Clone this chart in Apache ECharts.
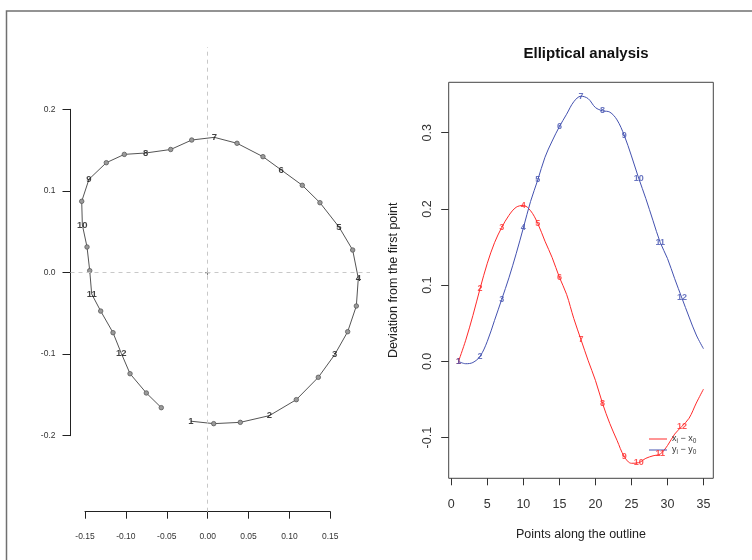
<!DOCTYPE html>
<html>
<head>
<meta charset="utf-8">
<script src="https://cdn.jsdelivr.net/npm/echarts@6/dist/echarts.min.js"></script>
<style>
  html, body { margin: 0; padding: 0; background: #fff; }
  #chart { width: 752px; height: 560px; }
</style>
</head>
<body>
<div id="chart"></div>
<script>
// Outline coordinates (35 points, centred on the centroid)
const outlineX = [-0.0202, 0.0076, 0.0401, 0.0756, 0.1086, 0.1355, 0.1555, 0.1714, 0.1820, 0.1844,
                  0.1775, 0.1608, 0.1375, 0.1159, 0.0902, 0.0678, 0.0361, 0.0083, -0.0193, -0.0450,
                  -0.0756, -0.1017, -0.1237, -0.1449, -0.1538, -0.1530, -0.1473, -0.1440, -0.1416, -0.1306,
                  -0.1155, -0.1054, -0.0947, -0.0748, -0.0565];
const outlineY = [-0.1820, -0.1850, -0.1834, -0.1752, -0.1556, -0.1282, -0.1005, -0.0723, -0.0408, -0.0069,
                  0.0278, 0.0560, 0.0858, 0.1071, 0.1259, 0.1422, 0.1586, 0.1659, 0.1626, 0.1510,
                  0.1467, 0.1450, 0.1348, 0.1145, 0.0875, 0.0585, 0.0315, 0.0025, -0.0261, -0.0470,
                  -0.0735, -0.0988, -0.1238, -0.1474, -0.1654];
// Point numbers (1-based) that carry a landmark label, and those labels
const landmarkPoints = [1, 4, 7, 10, 12, 15, 18, 21, 24, 26, 29, 32];
const landmarkLabels = ['1', '2', '3', '4', '5', '6', '7', '8', '9', '10', '11', '12'];
// Axis ticks
const pointTicks = [0, 5, 10, 15, 20, 25, 30, 35];
const devTicks = [-0.1, 0.0, 0.1, 0.2, 0.3];
// Data extent of the outline panel's plotting region
const outlineXRange = [-0.1675, 0.1987];
const outlineYRange = [-0.2929, 0.2766];

const RED = '#ff2a2a';
const BLUE = '#4452b0';
const FONT = '"Liberation Sans", Arial, sans-serif';

const pointIndex = outlineX.map((_, i) => i + 1);
const devX = outlineX.map(v => v - outlineX[0]);
const devY = outlineY.map(v => v - outlineY[0]);
const isLandmark = i => landmarkPoints.indexOf(i + 1) >= 0;

const outlineData = outlineX.map((x, i) => ({
  value: [x, outlineY[i]],
  symbol: isLandmark(i) ? 'none' : 'circle'
}));
const outlineLabelData = landmarkPoints.map((p, k) => ({
  value: [outlineX[p - 1], outlineY[p - 1]], name: landmarkLabels[k]
}));
const devXData = pointIndex.map((p, i) => [p, devX[i]]);
const devYData = pointIndex.map((p, i) => [p, devY[i]]);
const devXLabels = landmarkPoints.map((p, k) => ({ value: [p, devX[p - 1]], name: landmarkLabels[k] }));
const devYLabels = landmarkPoints.map((p, k) => ({ value: [p, devY[p - 1]], name: landmarkLabels[k] }));

function labelSeries(data, color, xi, yi, size) {
  return {
    type: 'scatter', xAxisIndex: xi, yAxisIndex: yi, data: data,
    symbol: 'circle', symbolSize: 1, silent: true, z: 5,
    itemStyle: { color: 'transparent' },
    label: {
      show: true, position: 'inside', formatter: p => p.name,
      color: color, fontSize: size, fontWeight: 'bold', fontFamily: FONT
    }
  };
}

const hiddenAxis = (grid, min, max) => ({
  gridIndex: grid, type: 'value', min: min, max: max, show: false,
  axisLine: { show: false }, axisTick: { show: false }, axisLabel: { show: false }, splitLine: { show: false }
});

const chart = echarts.init(document.getElementById('chart'), null, { renderer: 'canvas' });
chart.setOption({
  animation: false,
  backgroundColor: '#fff',
  textStyle: { fontFamily: FONT },
  title: {
    text: 'Elliptical analysis', left: 581, top: 41, textAlign: 'center',
    textStyle: { fontSize: 15, fontWeight: 'bold', color: '#111', fontFamily: FONT }
  },
  graphic: [{
    type: 'polyline', silent: true,
    shape: { points: [[6.5, 560], [6.5, 11], [752, 11]] },
    style: { stroke: '#707070', lineWidth: 1.5, fill: null }
  }],
  legend: {
    left: 644, top: 428.5, orient: 'vertical', itemGap: 0,
    itemWidth: 18, itemHeight: 1, icon: 'rect',
    data: ['xdev', 'ydev'],
    formatter: n => n === 'xdev' ? '{a|x}{s|i}{a| \u2212 x}{s|0}' : '{a|y}{s|i}{a| \u2212 y}{s|0}',
    textStyle: {
      color: '#333',
      rich: {
        a: { fontSize: 9, color: '#333', fontFamily: FONT, lineHeight: 10 },
        s: { fontSize: 6.5, color: '#333', fontFamily: FONT, lineHeight: 10, padding: [4, 0, 0, 0] }
      }
    }
  },
  grid: [
    // outline plotting region
    { left: 70.5, right: 752 - 370, top: 47, bottom: 560 - 511.7 },
    // deviation panel
    { left: 448.7, right: 752 - 713.3, top: 82.3, bottom: 560 - 478.3, show: true,
      borderColor: '#444', borderWidth: 1, backgroundColor: 'transparent' },
    // outline x axis, spanning its tick range
    { left: 85, right: 752 - 330.3, top: 510.7, height: 1 },
    // outline y axis, spanning its tick range
    { left: 70.5, width: 1, top: 109.3, bottom: 560 - 435.7 }
  ],
  xAxis: [
    hiddenAxis(0, outlineXRange[0], outlineXRange[1]),
    {
      gridIndex: 1, type: 'value', min: -0.36, max: 36.36, position: 'bottom',
      axisLine: { show: false, onZero: false },
      axisTick: { show: true, length: 7, customValues: pointTicks, lineStyle: { color: '#333' } },
      axisLabel: { customValues: pointTicks, fontSize: 12.5, color: '#333', margin: 20, fontFamily: FONT },
      splitLine: { show: false },
      name: 'Points along the outline', nameLocation: 'middle', nameGap: 50,
      nameTextStyle: { fontSize: 12.5, color: '#222', fontFamily: FONT }
    },
    {
      gridIndex: 2, type: 'value', min: -0.15, max: 0.15, interval: 0.05, position: 'bottom',
      axisLine: { show: true, onZero: false, lineStyle: { color: '#222', width: 1 } },
      axisTick: { show: true, length: 7, lineStyle: { color: '#222' } },
      axisLabel: { formatter: v => v.toFixed(2), fontSize: 8.5, color: '#333', margin: 20, fontFamily: FONT,
                   showMinLabel: true, showMaxLabel: true },
      splitLine: { show: false }
    },
    hiddenAxis(3, 0, 1)
  ],
  yAxis: [
    hiddenAxis(0, outlineYRange[0], outlineYRange[1]),
    {
      gridIndex: 1, type: 'value', min: -0.1533, max: 0.3661, position: 'left',
      axisLine: { show: false, onZero: false },
      axisTick: { show: true, length: 7.5, customValues: devTicks, lineStyle: { color: '#333' } },
      axisLabel: { customValues: devTicks, formatter: v => v.toFixed(1), rotate: 90, fontSize: 12.5,
                   color: '#333', margin: 15, fontFamily: FONT },
      splitLine: { show: false },
      name: 'Deviation from the first point', nameLocation: 'middle', nameGap: 49,
      nameTextStyle: { fontSize: 12.5, color: '#222', fontFamily: FONT }
    },
    hiddenAxis(2, 0, 1),
    {
      gridIndex: 3, type: 'value', min: -0.2, max: 0.2, interval: 0.1, position: 'left',
      axisLine: { show: true, onZero: false, lineStyle: { color: '#222', width: 1 } },
      axisTick: { show: true, length: 8, lineStyle: { color: '#222' } },
      axisLabel: { formatter: v => v.toFixed(1), fontSize: 8.5, color: '#333', margin: 15, fontFamily: FONT },
      splitLine: { show: false }
    }
  ],
  series: [
    {
      name: 'outline', type: 'line', xAxisIndex: 0, yAxisIndex: 0, data: outlineData,
      showSymbol: true, symbolSize: 4.5, z: 3,
      lineStyle: { color: '#555', width: 1 },
      itemStyle: { color: '#9a9a9a', borderColor: '#5a5a5a', borderWidth: 0.8 },
      markLine: {
        silent: true, symbol: 'none', label: { show: false },
        lineStyle: { color: '#c8c8c8', type: [4, 4], width: 1 },
        data: [{ yAxis: 0 }, { xAxis: 0 }]
      }
    },
    {
      type: 'scatter', xAxisIndex: 0, yAxisIndex: 0, data: [[0, 0]], silent: true, z: 4,
      symbol: 'path://M-0.18,-1 h0.36 v0.82 h0.82 v0.36 h-0.82 v0.82 h-0.36 v-0.82 h-0.82 v-0.36 h0.82z',
      symbolSize: 5, itemStyle: { color: '#555' }
    },
    labelSeries(outlineLabelData, '#111', 0, 0, 9.5),
    {
      name: 'xdev', type: 'line', xAxisIndex: 1, yAxisIndex: 1, data: devXData,
      smooth: 0.35, showSymbol: false, symbol: 'none', color: RED,
      lineStyle: { color: RED, width: 1 }
    },
    {
      name: 'ydev', type: 'line', xAxisIndex: 1, yAxisIndex: 1, data: devYData,
      smooth: 0.35, showSymbol: false, symbol: 'none', color: BLUE,
      lineStyle: { color: BLUE, width: 1 }
    },
    labelSeries(devXLabels, RED, 1, 1, 9),
    labelSeries(devYLabels, BLUE, 1, 1, 9)
  ]
});
</script>
</body>
</html>
